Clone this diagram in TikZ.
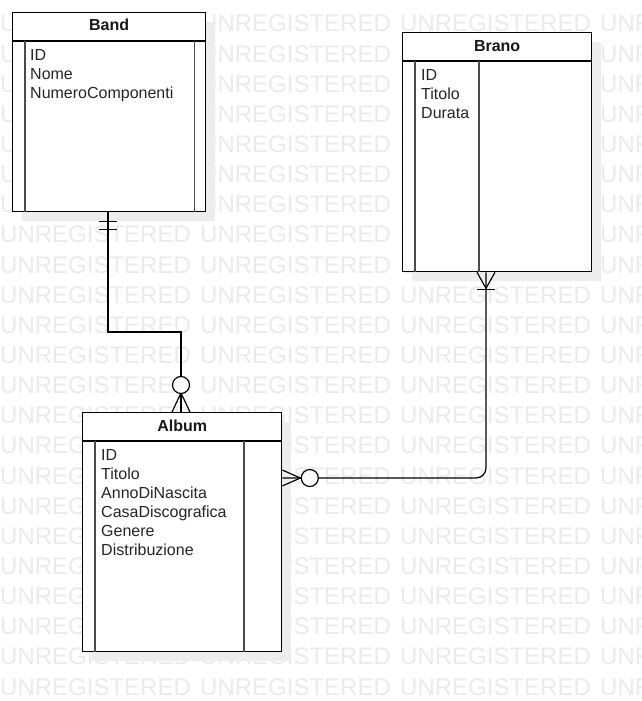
\documentclass[tikz,border=0pt]{standalone}
\usepackage{fontspec}
\setmainfont{Liberation Sans}
\usetikzlibrary{calc,shadows}
\tikzset{
  wm/.style={text=black!8, font=\fontsize{24}{24}\selectfont, inner sep=0pt, anchor=base west},
  entity/.style={draw=black, line width=1.3pt, fill=white, inner sep=0pt, anchor=north west,
    drop shadow={shadow xshift=9pt, shadow yshift=-9pt, fill=black!7, opacity=1}},
  sepline/.style={draw=black, line width=1.3pt},
  colline/.style={draw=black!70, line width=1.5pt},
  ttl/.style={font=\bfseries\fontsize{16}{16}\selectfont, inner sep=0pt, anchor=base, text=black!90},
  attr/.style={font=\fontsize{16}{16}\selectfont, inner sep=0pt, anchor=base west, text=black!85},
  conn/.style={draw=black, line width=1.2pt},
  zero/.style={circle, draw=black, line width=1.2pt, fill=white, minimum size=17pt, inner sep=0pt}
}
\begin{document}
\begin{tikzpicture}[x=1pt,y=-1pt]
\useasboundingbox (0,0) rectangle (641,701);
\fill[white] (0,0) rectangle (641,701);
\begin{scope}
\clip (0,0) rectangle (641,701);
\foreach \r in {0,...,22}{
  \foreach \c in {0,200,400,600}{
    \node[wm] at (\c,{32+30.14*\r}) {UNREGISTERED};
  }
}
\end{scope}

% ---- Band ----
\node[entity, minimum width=193pt, minimum height=199pt] (band) at (12,12) {};
\draw[sepline] ($(band.north west)+(0,29)$) -- ($(band.north east)+(0,29)$);
\draw[colline] ($(band.north west)+(13,29)$) -- ($(band.south west)+(13,0)$);
\draw[colline] ($(band.north east)+(-12,29)$) -- ($(band.south east)+(-12,0)$);
\node[ttl] (bandT) at ($(band.north)+(0,19)$) {Band};
\node[attr] (bandA1) at (30,60) {ID};
\node[attr] (bandA2) at (30,79) {Nome};
\node[attr] (bandA3) at (30,98) {NumeroComponenti};

% ---- Brano ----
\node[entity, minimum width=189pt, minimum height=239pt] (brano) at (402,32) {};
\draw[sepline] ($(brano.north west)+(0,29)$) -- ($(brano.north east)+(0,29)$);
\draw[colline] ($(brano.north west)+(13,29)$) -- ($(brano.south west)+(13,0)$);
\draw[colline] ($(brano.north west)+(77,29)$) -- ($(brano.south west)+(77,0)$);
\node[ttl] (branoT) at ($(brano.north)+(0,19.5)$) {Brano};
\node[attr] (branoA1) at (421,80) {ID};
\node[attr] (branoA2) at (421,99) {Titolo};
\node[attr] (branoA3) at (421,118) {Durata};

% ---- Album ----
\node[entity, minimum width=199pt, minimum height=239pt] (album) at (82,412) {};
\draw[sepline] ($(album.north west)+(0,29)$) -- ($(album.north east)+(0,29)$);
\draw[colline] ($(album.north west)+(13,29)$) -- ($(album.south west)+(13,0)$);
\draw[colline] ($(album.north west)+(162,29)$) -- ($(album.south west)+(162,0)$);
\node[ttl] (albumT) at ($(album.north)+(0,19)$) {Album};
\node[attr] (albumA1) at (101,460) {ID};
\node[attr] (albumA2) at (101,479) {Titolo};
\node[attr] (albumA3) at (101,498) {AnnoDiNascita};
\node[attr] (albumA4) at (101,517) {CasaDiscografica};
\node[attr] (albumA5) at (101,536) {Genere};
\node[attr] (albumA6) at (101,555) {Distribuzione};

% ---- Band -- Album (one and only one / zero or many) ----
\coordinate (bEnd) at ($(band.south west)+(96,0)$);
\coordinate (aTop) at ($(album.north west)+(99,0)$);
\coordinate (bend1) at ($(aTop)+(0,-80)$);
\draw[conn] (bEnd) |- (bend1) -- (aTop);
\draw[conn] ($(bEnd)+(-9,9)$) -- ($(bEnd)+(9,9)$);
\draw[conn] ($(bEnd)+(-9,17)$) -- ($(bEnd)+(9,17)$);
\draw[conn] ($(aTop)+(0,-19)$) -- ($(aTop)+(-9,0)$);
\draw[conn] ($(aTop)+(0,-19)$) -- ($(aTop)+(9,0)$);
\node[zero] (z1) at ($(aTop)+(0,-27)$) {};

% ---- Album -- Brano (zero or many / one or many) ----
\coordinate (aRight) at ($(album.north east)+(0,66)$);
\coordinate (brBot) at ($(brano.south west)+(84,0)$);
\draw[conn, rounded corners=10pt] (aRight) -| (brBot);
\draw[conn] ($(aRight)+(18,0)$) -- ($(aRight)+(0,-8)$);
\draw[conn] ($(aRight)+(18,0)$) -- ($(aRight)+(0,8)$);
\node[zero] (z2) at ($(aRight)+(27.5,0)$) {};
\draw[conn] ($(brBot)+(0,16)$) -- ($(brBot)+(-9,0)$);
\draw[conn] ($(brBot)+(0,16)$) -- ($(brBot)+(9,0)$);
\draw[conn] ($(brBot)+(-9,17)$) -- ($(brBot)+(9,17)$);
\end{tikzpicture}
\end{document}
